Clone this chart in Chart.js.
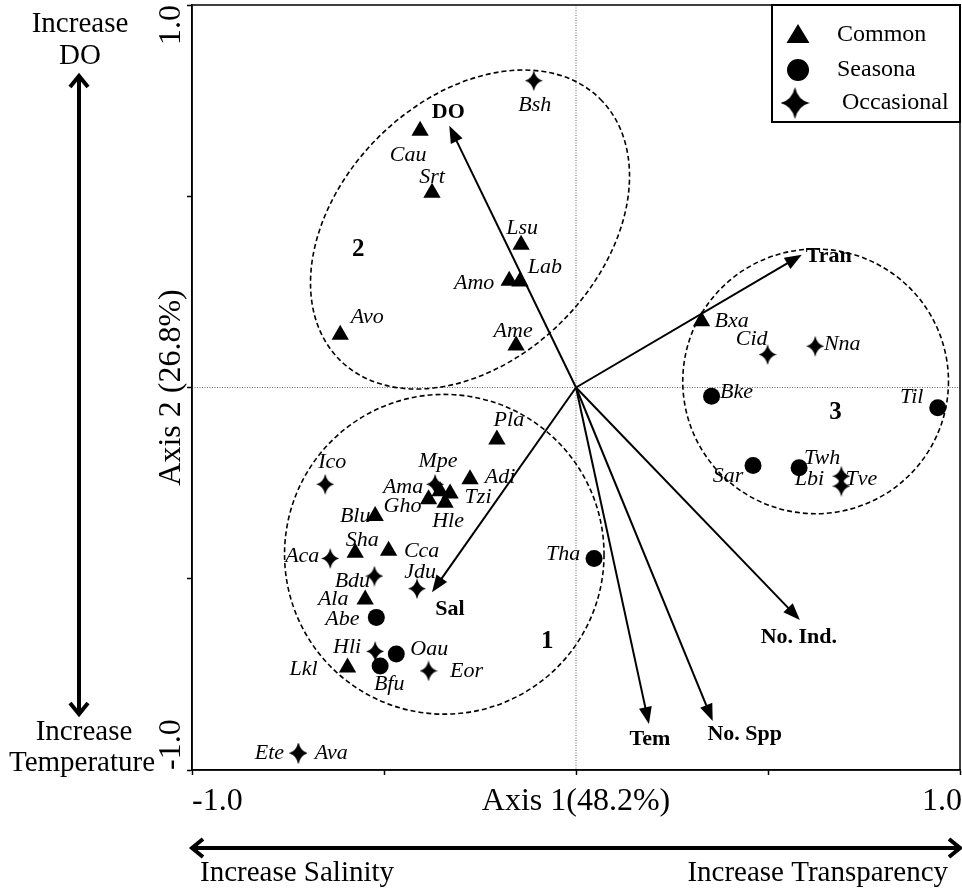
<!DOCTYPE html>
<html>
<head>
<meta charset="utf-8">
<title>CCA biplot - fish species and environment</title>
<script src="https://cdn.jsdelivr.net/npm/chart.js@4.4.1/dist/chart.umd.min.js"></script>
<style>
  body { margin: 0; background: #fff; }
  #wrap { width: 962px; height: 890px; }
</style>
</head>
<body>
<div id="wrap"><canvas id="ccaChart" width="962" height="890"></canvas></div>
<script>
// species scores (Axis 1, Axis 2), grouped by occurrence
const commonNames = ["Cau", "Srt", "Lsu", "Amo", "Lab", "Ame", "Avo", "Bxa", "Pla", "Adi", "Ama", "Tzi", "Gho", "Hle", "Blu", "Sha", "Cca", "Ala", "Lkl"];
const commonX = [-0.406, -0.375, -0.143, -0.174, -0.146, -0.156, -0.614, 0.327, -0.206, -0.276, -0.354, -0.328, -0.384, -0.341, -0.523, -0.575, -0.488, -0.549, -0.595];
const commonY = [0.671, 0.509, 0.373, 0.279, 0.277, 0.110, 0.138, 0.173, -0.136, -0.240, -0.271, -0.277, -0.292, -0.301, -0.336, -0.432, -0.427, -0.554, -0.732];

const seasonalNames = ["Abe", "Oau", "Bfu", "Tha", "Bke", "Sar", "Twh", "Til"];
const seasonalX = [-0.520, -0.468, -0.510, 0.047, 0.353, 0.461, 0.581, 0.942];
const seasonalY = [-0.601, -0.697, -0.728, -0.447, -0.023, -0.204, -0.210, -0.053];

const occasionalNames = ["Bsh", "Ico", "Mpe", "Aca", "Bdu", "Jdu", "Hli", "Eor", "Cid", "Nna", "Tve", "Lbi", "Ete", "Ava"];
const occasionalX = [-0.110, -0.653, -0.367, -0.640, -0.525, -0.414, -0.523, -0.384, 0.499, 0.623, 0.691, 0.691, -0.723, -0.723];
const occasionalY = [0.802, -0.253, -0.253, -0.447, -0.493, -0.526, -0.690, -0.741, 0.086, 0.108, -0.232, -0.258, -0.956, -0.956];

// environmental vectors
const vectorNames = ["DO", "Tran", "Sal", "Tem", "No. Spp", "No. Ind."];
const vectorX = [-0.330, 0.588, -0.375, 0.190, 0.356, 0.583];
const vectorY = [0.684, 0.347, -0.535, -0.880, -0.872, -0.608];

// axes
const tickValues = [-1, -0.5, 0, 0.5, 1];
const endTickValues = [-1, 1];
const endTickLabels = ["-1.0", "1.0"];
const xTitle = "Axis 1(48.2%)";
const yTitle = "Axis 2 (26.8%)";
const legendLabels = ["Common", "Seasona", "Occasional"];

// label placement (px offset from the marker)
const labelOffset = {
    Cau: [-12, 24], Srt: [0, -16], Lsu: [1, -17], Amo: [-35, 2], Lab: [25, -14], Ame: [-3, -14],
    Avo: [27, -17], Bxa: [30, 0], Pla: [12, -19], Adi: [30, -2], Ama: [-37, -4], Tzi: [28, 4],
    Gho: [-26, 7], Hle: [3, 19], Blu: [-20, 0], Sha: [7, -13], Cca: [33, 0], Ala: [-32, 0], Lkl: [-44, 2],
    Abe: [-34, 2], Oau: [33, -5], Bfu: [9, 18], Tha: [-31, -4], Bke: [25, -4], Sar: [-25, 11],
    Twh: [23, -10], Til: [-26, -11],
    Bsh: [1, 24], Ico: [7, -22], Mpe: [3, -23], Aca: [-28, -2], Bdu: [-22, 5], Jdu: [3, -16],
    Hli: [-28, -4], Eor: [38, 0], Cid: [-16, -15], Nna: [27, -2], Tve: [20, 3], Lbi: [-32, -7],
    Ete: [-29, 0], Ava: [33, 0]
};
const vectorLabelOffset = {
    "DO": [-1, -14], "Tran": [27, 2], "Sal": [18, 17], "Tem": [1, 15], "No. Spp": [32, 13], "No. Ind.": [-1, 17]
};

// dashed cluster outlines, in axis units
const clusterOutlines = [
    { name: "1", cx: -0.343, cy: -0.436, rx: 0.416, ry: 0.418, angle: 0, tx: -0.075, ty: -0.663 },
    { name: "2", cx: -0.276, cy: 0.413, rx: 0.48, ry: 0.34, angle: 45, tx: -0.567, ty: 0.360 },
    { name: "3", cx: 0.624, cy: 0.016, rx: 0.346, ry: 0.346, angle: 0, tx: 0.676, ty: -0.065 }
];

const serif = '"Liberation Serif", "Times New Roman", Times, serif';

function makeStar(w, h) {
    const c = document.createElement("canvas");
    c.width = w; c.height = h;
    const g = c.getContext("2d");
    const cx = w / 2, cy = h / 2, k = w * 0.1;
    g.fillStyle = "#000";
    g.beginPath();
    g.moveTo(cx, 0);
    g.quadraticCurveTo(cx + k, cy - k, w, cy);
    g.quadraticCurveTo(cx + k, cy + k, cx, h);
    g.quadraticCurveTo(cx - k, cy + k, 0, cy);
    g.quadraticCurveTo(cx - k, cy - k, cx, 0);
    g.fill();
    return c;
}
const starPoint = makeStar(18, 21);
const starLegend = makeStar(29, 32);

function toPoints(xs, ys) {
    return xs.map((v, i) => ({ x: v, y: ys[i] }));
}

function arrowHead(ctx, tx, ty, ux, uy, len, half, filled) {
    const bx = tx - ux * len, by = ty - uy * len;
    ctx.beginPath();
    ctx.moveTo(bx - uy * half, by + ux * half);
    ctx.lineTo(tx, ty);
    ctx.lineTo(bx + uy * half, by - ux * half);
    if (filled) { ctx.closePath(); ctx.fill(); } else { ctx.stroke(); }
}

function doubleArrow(ctx, x1, y1, x2, y2) {
    const d = Math.hypot(x2 - x1, y2 - y1), ux = (x2 - x1) / d, uy = (y2 - y1) / d;
    ctx.beginPath();
    ctx.moveTo(x1 + ux * 2, y1 + uy * 2);
    ctx.lineTo(x2 - ux * 2, y2 - uy * 2);
    ctx.stroke();
    arrowHead(ctx, x2, y2, ux, uy, 11, 9, false);
    arrowHead(ctx, x1, y1, -ux, -uy, 11, 9, false);
}

const biplotDecor = {
    id: "biplotDecor",
    beforeDatasetsDraw(chart) {
        const { ctx, chartArea: a, scales: { x, y } } = chart;
        const x0 = x.getPixelForValue(0), y0 = y.getPixelForValue(0);
        ctx.save();
        // dotted zero lines
        ctx.strokeStyle = "#666";
        ctx.lineWidth = 1;
        ctx.setLineDash([1, 1.5]);
        ctx.beginPath();
        ctx.moveTo(a.left, y0); ctx.lineTo(a.right, y0);
        ctx.moveTo(x0, a.top); ctx.lineTo(x0, a.bottom);
        ctx.stroke();
        // cluster ellipses
        ctx.strokeStyle = "#000";
        ctx.lineWidth = 1.6;
        ctx.setLineDash([5, 3]);
        clusterOutlines.forEach(g => {
            const cx = x.getPixelForValue(g.cx), cy = y.getPixelForValue(g.cy);
            const rx = Math.abs(x.getPixelForValue(g.cx + g.rx) - cx);
            const ry = Math.abs(y.getPixelForValue(g.cy + g.ry) - cy);
            ctx.beginPath();
            ctx.ellipse(cx, cy, rx, ry, -g.angle * Math.PI / 180, 0, Math.PI * 2);
            ctx.stroke();
        });
        ctx.setLineDash([]);
        ctx.fillStyle = "#000";
        ctx.font = "bold 25px " + serif;
        ctx.textAlign = "center";
        ctx.textBaseline = "middle";
        clusterOutlines.forEach(g => {
            ctx.fillText(g.name, x.getPixelForValue(g.tx), y.getPixelForValue(g.ty));
        });
        ctx.restore();
    },
    afterDatasetsDraw(chart) {
        const { ctx, scales: { x, y } } = chart;
        const x0 = x.getPixelForValue(0), y0 = y.getPixelForValue(0);
        ctx.save();
        ctx.strokeStyle = "#000";
        ctx.fillStyle = "#000";
        ctx.lineWidth = 2;
        ctx.textAlign = "center";
        ctx.textBaseline = "middle";
        // environmental vectors
        vectorNames.forEach((name, i) => {
            const tx = x.getPixelForValue(vectorX[i]), ty = y.getPixelForValue(vectorY[i]);
            const d = Math.hypot(tx - x0, ty - y0), ux = (tx - x0) / d, uy = (ty - y0) / d;
            ctx.beginPath();
            ctx.moveTo(x0, y0);
            ctx.lineTo(tx - ux * 12, ty - uy * 12);
            ctx.stroke();
            arrowHead(ctx, tx, ty, ux, uy, 17, 6.5, true);
            const off = vectorLabelOffset[name];
            ctx.font = "bold 22px " + serif;
            ctx.fillText(name, tx + off[0], ty + off[1]);
        });
        // species labels
        ctx.font = "italic 22px " + serif;
        chart.data.datasets.forEach((ds, di) => {
            const meta = chart.getDatasetMeta(di);
            meta.data.forEach((pt, j) => {
                const name = ds.names[j];
                const off = labelOffset[name] || [0, -18];
                ctx.fillText(name, pt.x + off[0], pt.y + off[1]);
            });
        });
        ctx.restore();
    },
    afterDraw(chart) {
        const { ctx, chartArea: a, scales: { x, y } } = chart;
        ctx.save();
        ctx.strokeStyle = "#000";
        ctx.fillStyle = "#000";
        // frame
        ctx.lineWidth = 1.5;
        ctx.strokeRect(a.left, a.top, a.right - a.left, a.bottom - a.top);

        // legend
        const lx = a.right - 188, ly = a.top;
        ctx.lineWidth = 2;
        ctx.fillStyle = "#fff";
        ctx.fillRect(lx, ly, 188, 117);
        ctx.strokeRect(lx, ly, 188, 117);
        ctx.fillStyle = "#000";
        ctx.beginPath();
        ctx.moveTo(lx + 26, ly + 19);
        ctx.lineTo(lx + 37.5, ly + 38);
        ctx.lineTo(lx + 14.5, ly + 38);
        ctx.closePath();
        ctx.fill();
        ctx.beginPath();
        ctx.arc(lx + 26, ly + 65, 11, 0, Math.PI * 2);
        ctx.fill();
        ctx.drawImage(starLegend, lx + 23 - starLegend.width / 2, ly + 98 - starLegend.height / 2);
        ctx.font = "24px " + serif;
        ctx.textAlign = "left";
        ctx.textBaseline = "middle";
        ctx.fillText(legendLabels[0], lx + 65, ly + 30);
        ctx.fillText(legendLabels[1], lx + 65, ly + 65);
        ctx.fillText(legendLabels[2], lx + 70, ly + 98);

        // axis end labels and titles
        ctx.font = "32px " + serif;
        ctx.textBaseline = "middle";
        const xLabY = a.bottom + 32;
        endTickValues.forEach((v, i) => {
            ctx.textAlign = i === 0 ? "left" : "right";
            ctx.fillText(endTickLabels[i], x.getPixelForValue(v) + (i === 0 ? 0 : 2), xLabY);
        });
        ctx.textAlign = "center";
        ctx.fillText(xTitle, x.getPixelForValue(0), xLabY);

        const yLabX = a.left - 20;
        endTickValues.forEach((v, i) => {
            ctx.save();
            ctx.translate(yLabX, y.getPixelForValue(v));
            ctx.rotate(-Math.PI / 2);
            ctx.textAlign = i === 0 ? "left" : "right";
            ctx.fillText(endTickLabels[i], 0, 0);
            ctx.restore();
        });
        ctx.save();
        ctx.translate(yLabX, y.getPixelForValue(0));
        ctx.rotate(-Math.PI / 2);
        ctx.textAlign = "center";
        ctx.fillText(yTitle, 0, 0);
        ctx.restore();

        // gradient arrows outside the plot
        ctx.lineWidth = 4;
        ctx.lineJoin = "miter";
        doubleArrow(ctx, 79, 76, 79, 714);
        doubleArrow(ctx, a.left, 848, a.right, 848);
        ctx.font = "29px " + serif;
        ctx.textAlign = "center";
        ctx.fillText("Increase", 80, 24);
        ctx.fillText("DO", 80, 56);
        ctx.fillText("Increase", 84, 732);
        ctx.fillText("Temperature", 82, 763);
        ctx.textAlign = "left";
        ctx.fillText("Increase Salinity", a.left + 8, 873);
        ctx.textAlign = "right";
        ctx.fillText("Increase Transparency", a.right - 12, 873);
        ctx.restore();
    }
};

const axisStyle = {
    type: "linear",
    min: -1,
    max: 1,
    afterBuildTicks: scale => { scale.ticks = tickValues.map(v => ({ value: v })); },
    ticks: { display: false },
    grid: { drawOnChartArea: false, drawTicks: true, tickLength: 5, tickColor: "#000", tickWidth: 1.5 },
    border: { color: "#000", width: 1.5 }
};

new Chart(document.getElementById("ccaChart"), {
    type: "scatter",
    data: {
        datasets: [
            {
                label: legendLabels[0],
                names: commonNames,
                data: toPoints(commonX, commonY),
                pointStyle: "triangle",
                pointRadius: 10,
                backgroundColor: "#000",
                borderWidth: 0
            },
            {
                label: legendLabels[1],
                names: seasonalNames,
                data: toPoints(seasonalX, seasonalY),
                pointStyle: "circle",
                pointRadius: 8.5,
                backgroundColor: "#000",
                borderWidth: 0
            },
            {
                label: legendLabels[2],
                names: occasionalNames,
                data: toPoints(occasionalX, occasionalY),
                pointStyle: starPoint,
                pointRadius: 9,
                backgroundColor: "#000",
                borderWidth: 0
            }
        ]
    },
    options: {
        responsive: false,
        animation: false,
        events: [],
        layout: { autoPadding: false, padding: { left: 187, right: 2, top: 5, bottom: 115 } },
        scales: {
            x: Object.assign({}, axisStyle, { afterFit: s => { s.height = 5; } }),
            y: Object.assign({}, axisStyle, { afterFit: s => { s.width = 5; } })
        },
        plugins: {
            legend: { display: false },
            tooltip: { enabled: false }
        }
    },
    plugins: [biplotDecor]
});
</script>
</body>
</html>
